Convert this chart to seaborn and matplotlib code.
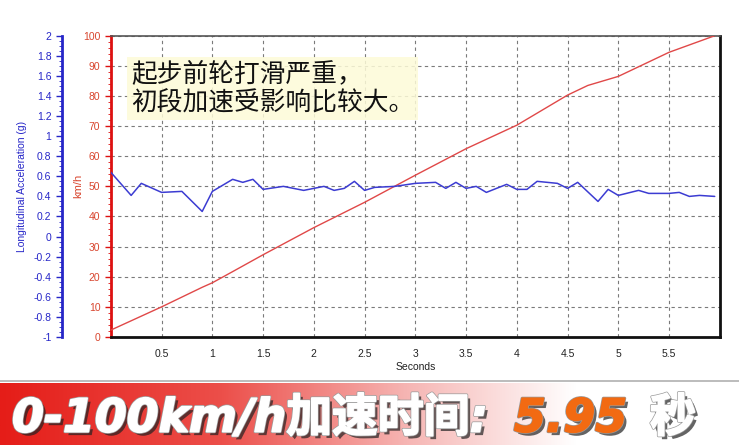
import numpy as np
import pandas as pd
import seaborn as sns
import matplotlib.pyplot as plt
from matplotlib import patheffects as pe
from matplotlib.colors import LinearSegmentedColormap
from matplotlib.ticker import MultipleLocator, FormatStrFormatter, FuncFormatter

# speed trace (km/h) vs time (s)
speed_t = [0.0, 0.5, 0.9, 1.0, 1.2, 1.5, 2.0, 2.5, 3.0, 3.5, 4.0, 4.5, 4.7, 5.0, 5.5, 5.95]
speed_kmh = [2.3, 10.0, 16.5, 18.0, 21.7, 27.3, 36.3, 44.7, 53.7, 62.5, 70.3, 80.3, 83.5, 86.5, 94.5, 100.0]

# longitudinal acceleration (g) vs time (s)
acc_t = [0.0, 0.2, 0.3, 0.5, 0.7, 0.9, 1.0, 1.2, 1.3, 1.4, 1.5, 1.7, 1.9, 2.0, 2.1, 2.2,
         2.3, 2.4, 2.5, 2.6, 2.8, 3.0, 3.2, 3.3, 3.4, 3.5, 3.6, 3.7, 3.9, 4.0, 4.1, 4.2,
         4.4, 4.5, 4.6, 4.8, 4.9, 5.0, 5.2, 5.3, 5.5, 5.6, 5.7, 5.8, 5.95]
acc_g = [0.64, 0.41, 0.53, 0.44, 0.45, 0.25, 0.45, 0.57, 0.54, 0.57, 0.47, 0.50, 0.46, 0.48, 0.50, 0.46,
         0.48, 0.55, 0.46, 0.49, 0.50, 0.53, 0.54, 0.48, 0.54, 0.48, 0.50, 0.44, 0.52, 0.47, 0.47, 0.55,
         0.53, 0.48, 0.54, 0.35, 0.47, 0.41, 0.46, 0.43, 0.43, 0.44, 0.40, 0.41, 0.40]

x_ticks = [0.5, 1.0, 1.5, 2.0, 2.5, 3.0, 3.5, 4.0, 4.5, 5.0, 5.5]
note_text = "起步前轮打滑严重，\n初段加速受影响比较大。"
banner_left = "0-100km/h加速时间:"
banner_value = "5.95"
banner_unit = "秒"

sns.set_style("white")
plt.rcParams["font.family"] = ["Liberation Sans", "Noto Sans CJK SC", "DejaVu Sans"]

RED = "#dd1111"
RED_TXT = "#d8452e"
BLUE = "#2626c8"

fig = plt.figure(figsize=(7.39, 4.45), dpi=100)
ax = fig.add_axes([0.150, 0.2427, 0.824, 0.677])

speed = pd.DataFrame({"t": speed_t, "kmh": speed_kmh})
acc = pd.DataFrame({"t": acc_t, "g": acc_g})

sns.lineplot(data=speed, x="t", y="kmh", ax=ax, color="#e04848", lw=1.0, zorder=3)
ax.set_xlim(0, 6.0)
ax.set_ylim(0, 100)
ax.set_xticks(x_ticks)
ax.xaxis.set_major_formatter(FormatStrFormatter("%g"))
ax.xaxis.set_minor_locator(MultipleLocator(0.1))
ax.yaxis.set_major_locator(MultipleLocator(10))
ax.yaxis.set_minor_locator(MultipleLocator(2))
ax.grid(True, which="major", color="#7a7a7a", linestyle=(0, (3, 3)), lw=0.8)
ax.tick_params(axis="x", which="major", direction="out", length=3, labelsize=7.5, colors="#222222", pad=6)
ax.tick_params(axis="x", which="minor", direction="out", length=1.5, colors="#444444")
ax.tick_params(axis="y", which="major", direction="out", length=4, labelsize=7.5, colors=RED, labelcolor=RED_TXT, width=1)
ax.tick_params(axis="y", which="minor", direction="out", length=2, colors=RED)
ax.set_xlabel("Seconds", fontsize=7.5, color="#222222", labelpad=2)
ax.set_ylabel("km/h", fontsize=8, color=RED_TXT)
ax.yaxis.set_label_coords(-0.046, 0.5)
ax.spines["left"].set_color(RED)
ax.spines["left"].set_linewidth(2)
ax.spines["bottom"].set_color("#111111")
ax.spines["bottom"].set_linewidth(2)
ax.spines["right"].set_color("#111111")
ax.spines["right"].set_linewidth(2)
ax.spines["top"].set_color("#555555")
ax.spines["top"].set_linewidth(1.2)

ax2 = ax.twinx()
sns.lineplot(data=acc, x="t", y="g", ax=ax2, color="#3c3cd2", lw=1.1)
ax2.set_ylim(-1, 2)
ax2.set_xlim(0, 6.0)
ax2.yaxis.set_ticks_position("left")
ax2.yaxis.set_label_position("left")
for s in ["top", "right", "bottom"]:
    ax2.spines[s].set_visible(False)
ax2.spines["left"].set_position(("axes", -0.0805))
ax2.spines["left"].set_color(BLUE)
ax2.spines["left"].set_linewidth(2)
ax2.yaxis.set_major_locator(MultipleLocator(0.2))
ax2.yaxis.set_minor_locator(MultipleLocator(0.05))
ax2.yaxis.set_major_formatter(FuncFormatter(lambda v, _: f"{round(v, 1) + 0.0:g}"))
ax2.tick_params(axis="y", which="major", direction="out", length=4, labelsize=7.5, colors=BLUE, width=1)
ax2.tick_params(axis="y", which="minor", direction="out", length=2, colors=BLUE)
ax2.set_ylabel("Longitudinal Acceleration (g)", fontsize=7.5, color=BLUE)
ax2.yaxis.set_label_coords(-0.137, 0.5)

ax2.text(0.033, 0.915, note_text, transform=ax2.transAxes, ha="left", va="top",
         fontsize=18.5, color="#111111", family=["Noto Sans CJK SC", "DejaVu Sans"],
         linespacing=1.15, zorder=5,
         bbox=dict(boxstyle="square,pad=0.15", fc="#fdfbd8", ec="none", alpha=0.85))

# banner
fig.add_artist(plt.Line2D([0, 1], [1 - 381 / 445] * 2, color="#b0b0b0", lw=1.2))
bax = fig.add_axes([0, 0, 1, 62 / 445])
cmap = LinearSegmentedColormap.from_list(
    "band", [(0, "#e51d18"), (0.3, "#ec4f4a"), (0.55, "#f6b5b3"), (0.78, "#ffffff"), (1, "#ffffff")])
bax.imshow(np.linspace(0, 1, 256)[None, :], aspect="auto", cmap=cmap, extent=(0, 1, 0, 1))
bax.set_axis_off()


def banner_fx(color):
    return [pe.SimplePatchShadow(offset=(2.5, -2.5), shadow_rgbFace="#222222", alpha=0.7),
            pe.Stroke(linewidth=2.2, foreground="#9a9a9a"),
            pe.Stroke(linewidth=1.2, foreground=color), pe.Normal()]


bfont = dict(family=["DejaVu Sans", "Noto Sans CJK SC"], weight="bold", style="italic",
             fontsize=33, va="baseline")
fig.text(12 / 739, 0.03, banner_left, color="white", ha="left", path_effects=banner_fx("white"), **bfont)
fig.text(514 / 739, 0.03, banner_value, color="#f26a12", ha="left", path_effects=banner_fx("#f26a12"), **bfont)
fig.text(650 / 739, 0.03, banner_unit, color="white", ha="left", path_effects=banner_fx("white"), **bfont)

fig.savefig("out.png", dpi=100)
